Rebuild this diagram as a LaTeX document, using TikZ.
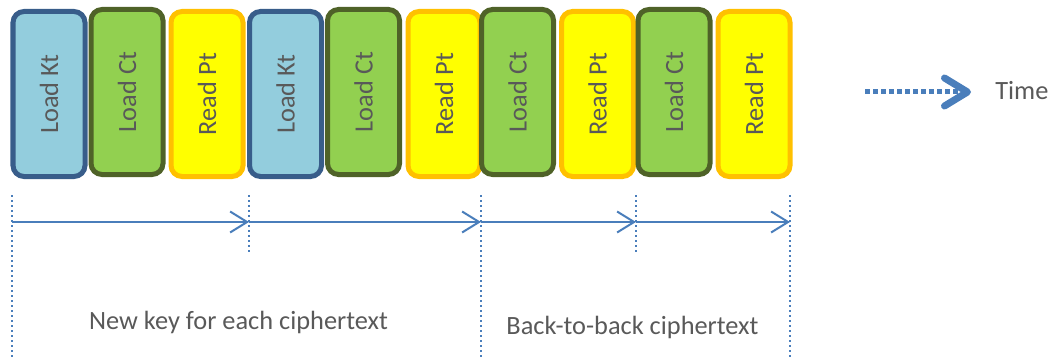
\documentclass[tikz,border=0pt]{standalone}
\usepackage{fontspec}
\setmainfont{Carlito}
\usepackage{tikz}
\usetikzlibrary{arrows.meta}
\usepackage{xcolor}

\definecolor{ktfill}{HTML}{93CDDD}
\definecolor{ktline}{HTML}{385D8A}
\definecolor{ctfill}{HTML}{92D050}
\definecolor{ctline}{HTML}{4F6228}
\definecolor{ptfill}{HTML}{FFFF00}
\definecolor{ptline}{HTML}{FFC000}
\definecolor{arrblue}{HTML}{4A7EBB}
\definecolor{txtgray}{HTML}{595959}

\begin{document}
\begin{tikzpicture}[scale=1]
        % ================= styles =================
        \tikzset{
            % one step of the schedule
            stepbox/.style={draw, rounded corners=0.22cm, line width=0.1cm, rotate=90,
                minimum width=3.3cm, minimum height=1.44cm, inner sep=0pt,
                text=txtgray, font=\fontsize{15}{18}\selectfont},
            kt/.style={stepbox, fill=ktfill, draw=ktline},
            ct/.style={stepbox, fill=ctfill, draw=ctline},
            pt/.style={stepbox, fill=ptfill, draw=ptline},
            % markers and spans
            tick/.style={arrblue, line width=0.03cm, dotted},
            span/.style={arrblue, line width=0.04cm, -{Straight Barb[length=0.34cm, width=0.42cm]}},
            timearrow/.style={arrblue, line width=0.1cm, dash pattern=on 0.1cm off 0.06cm,
                -{Straight Barb[length=0.46cm, width=0.56cm, line width=0.14cm, line cap=round, line join=round]}},
            caption/.style={text=txtgray, font=\fontsize{15}{18}\selectfont, inner sep=0pt}
        }
        \useasboundingbox (0,0) rectangle (21.04,7.24);

        % ================= 1. boxes =================
        \node[kt] (b1)  at (0.98, 5.36)  {Load Kt};
        \node[ct] (b2)  at (2.54, 5.40)  {Load Ct};
        \node[pt] (b3)  at (4.14, 5.36)  {Read Pt};
        \node[kt] (b4)  at (5.71, 5.36)  {Load Kt};
        \node[ct] (b5)  at (7.27, 5.40)  {Load Ct};
        \node[pt] (b6)  at (8.88, 5.36)  {Read Pt};
        \node[ct] (b7)  at (10.35, 5.40) {Load Ct};
        \node[pt] (b8)  at (11.95, 5.36) {Read Pt};
        \node[ct] (b9)  at (13.48, 5.40) {Load Ct};
        \node[pt] (b10) at (15.08, 5.36) {Read Pt};

        % ================= 2. time legend =================
        \coordinate (tstart) at (17.3, 5.40);
        \coordinate (tend) at (19.42, 5.40);
        \node[caption, anchor=west] (time) at (19.9, 5.42) {Time};
        \draw[timearrow] (tstart) -- (tend);

        % ================= 3. ticks and spans =================
        \coordinate (top0) at (0.24, 3.34);   \coordinate (bot0) at (0.24, 0.04);
        \coordinate (top1) at (4.98, 3.34);   \coordinate (bot1) at (4.98, 2.2);
        \coordinate (top2) at (9.62, 3.34);   \coordinate (bot2) at (9.62, 0.04);
        \coordinate (top3) at (12.72, 3.34);  \coordinate (bot3) at (12.72, 2.14);
        \coordinate (top4) at (15.8, 3.34);   \coordinate (bot4) at (15.8, 0.04);

        \draw[tick] (top0) -- (bot0);
        \draw[tick] (top1) -- (bot1);
        \draw[tick] (top2) -- (bot2);
        \draw[tick] (top3) -- (bot3);
        \draw[tick] (top4) -- (bot4);

        \coordinate (m0) at (0.24, 2.8);
        \coordinate (m1) at (4.98, 2.8);
        \coordinate (m2) at (9.62, 2.8);
        \coordinate (m3) at (12.72, 2.8);
        \coordinate (m4) at (15.8, 2.8);

        \draw[span] (m0) -- (m1);
        \draw[span] (m1) -- (m2);
        \draw[span] (m2) -- (m3);
        \draw[span] (m3) -- (m4);

        % ================= 4. captions =================
        \node[caption] (newkey) at (4.77, 0.80) {New key for each ciphertext};
        \node[caption] (b2b) at (12.65, 0.70) {Back-to-back ciphertext};

\end{tikzpicture}
\end{document}
